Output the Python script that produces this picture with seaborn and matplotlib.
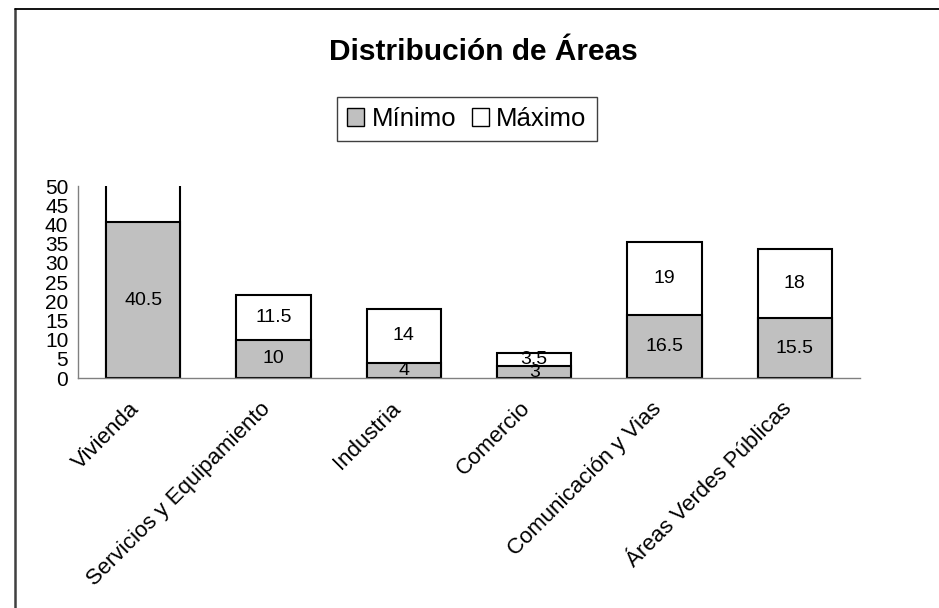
import numpy as np
import pandas as pd
import matplotlib
matplotlib.use('Agg')
import matplotlib.pyplot as plt
import matplotlib.transforms as mtransforms
from matplotlib.lines import Line2D
from matplotlib.patches import Patch
import seaborn as sns

sns.set_style('white')
plt.rcParams['font.family'] = ['Liberation Sans', 'DejaVu Sans']
plt.rcParams['text.color'] = 'black'
plt.rcParams['xtick.color'] = 'black'
plt.rcParams['ytick.color'] = 'black'

# ---- data ----
categorias = ['Vivienda', 'Servicios y Equipamiento', 'Industria', 'Comercio',
              'Comunicación y Vias', 'Áreas Verdes Públicas']
minimo = [40.5, 10, 4, 3, 16.5, 15.5]
maximo = [19.5, 11.5, 14, 3.5, 19, 18]   # Vivienda segment is clipped above 50, estimated
yticks = list(range(0, 55, 5))
YMAX = 50

df = pd.DataFrame({'cat': categorias, 'min': minimo, 'max': maximo})
df['total'] = df['min'] + df['max']

W, H = 939, 608
fig = plt.figure(figsize=(W / 100, H / 100), dpi=100)
ax = fig.add_axes([78 / W, 1 - 378 / H, (860 - 78) / W, (378 - 186) / H])

bar_w = 0.57
sns.barplot(data=df, x='cat', y='total', color='white', edgecolor='black',
            linewidth=1.5, width=bar_w, saturation=1, ax=ax)
sns.barplot(data=df, x='cat', y='min', color='#C0C0C0', edgecolor='black',
            linewidth=1.5, width=bar_w, saturation=1, ax=ax)

# value labels centred in each segment; labels outside the plot area are not drawn
for i, (mn, mx) in enumerate(zip(minimo, maximo)):
    for y, v in [(mn / 2, mn), (mn + mx / 2, mx)]:
        if y <= YMAX:
            ax.text(i, y, f'{v:g}', ha='center', va='center', fontsize=14)

ax.set_ylim(0, YMAX)
ax.set_xlim(-0.5, len(categorias) - 0.5)
ax.set_yticks(yticks)
ax.set_yticklabels([str(t) for t in yticks], fontsize=15)
# ticks at category boundaries, category names as rotated labels under each bar
ax.set_xticks(np.arange(-0.5, len(categorias)), labels=[])
ax.tick_params(axis='x', which='major', length=5, color='#808080', direction='out')
ax.tick_params(axis='y', length=5, color='#808080', direction='out', pad=2)
lab_tr = ax.get_xaxis_transform() + mtransforms.ScaledTranslation(-14 / 100, -20 / 100,
                                                                  fig.dpi_scale_trans)
for i, c in enumerate(categorias):
    ax.text(i, 0, c, transform=lab_tr, rotation=45, ha='right', va='top',
            rotation_mode='anchor', fontsize=16)
ax.set_xlabel('')
ax.set_ylabel('')
for s in ['top', 'right']:
    ax.spines[s].set_visible(False)
for s in ['left', 'bottom']:
    ax.spines[s].set_color('#808080')
    ax.spines[s].set_linewidth(1)
ax.set_facecolor('none')

# title and legend
fig.text(483 / W, 1 - 52 / H, 'Distribución de Áreas', ha='center', va='center',
         fontsize=21.5, fontweight='bold')
handles = [Patch(facecolor='#C0C0C0', edgecolor='black', linewidth=1, label='Mínimo'),
           Patch(facecolor='white', edgecolor='black', linewidth=1, label='Máximo')]
leg = fig.legend(handles=handles, loc='center', bbox_to_anchor=(467 / W, 1 - 119 / H),
                 ncol=2, fontsize=18.5, frameon=True, fancybox=False, framealpha=1,
                 handlelength=0.65, handleheight=0.65, handletextpad=0.3,
                 columnspacing=0.6, borderpad=0.4)
leg.get_frame().set_edgecolor('#404040')
leg.get_frame().set_linewidth(1)

# outer chart frame (left and top edges visible)
fig.add_artist(Line2D([15 / W, 15 / W], [0, 1 - 9 / H], color='#404040', linewidth=1.8,
                      transform=fig.transFigure))
fig.add_artist(Line2D([15 / W, 1], [1 - 9 / H, 1 - 9 / H], color='black', linewidth=1.3,
                      transform=fig.transFigure))

fig.savefig('out.png', dpi=100)
